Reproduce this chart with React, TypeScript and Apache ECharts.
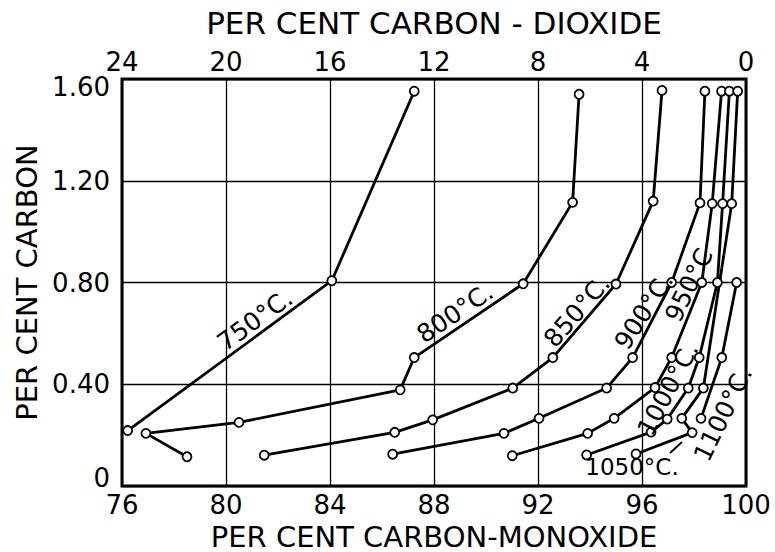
import React, { useEffect, useRef } from "react";
import * as echarts from "echarts";

// Per cent CO (x) vs per cent carbon (y) for each temperature
const t750: number[][] = [[76.22, 0.218], [84.07, 0.807], [87.24, 1.552]];
const t800: number[][] = [[78.5, 0.115], [76.92, 0.207], [80.5, 0.25], [86.7, 0.378], [87.24, 0.505], [91.43, 0.795], [93.33, 1.115], [93.58, 1.54]];
const t850: number[][] = [[81.47, 0.121], [86.49, 0.211], [87.95, 0.26], [91.03, 0.385], [92.57, 0.505], [95.0, 0.794], [96.43, 1.12], [96.77, 1.555]];
const t900: number[][] = [[86.41, 0.125], [90.69, 0.207], [92.04, 0.266], [94.64, 0.385], [95.64, 0.505], [97.14, 0.8], [98.23, 1.113], [98.42, 1.552]];
const t950: number[][] = [[91.01, 0.119], [93.91, 0.207], [94.93, 0.266], [96.5, 0.387], [97.14, 0.505], [98.3, 0.8], [98.7, 1.11], [99.06, 1.552]];
const t1000: number[][] = [[93.87, 0.122], [96.35, 0.212], [96.97, 0.263], [97.78, 0.385], [98.2, 0.505], [98.9, 0.8], [99.1, 1.11], [99.36, 1.552]];
const t1050: number[][] = [[95.77, 0.126], [97.93, 0.21], [97.53, 0.266], [98.36, 0.385], [99.45, 1.11], [99.68, 1.552]];
const t1100: number[][] = [[98.27, 0.266], [99.07, 0.505], [99.64, 0.8]];

const seriesNames = ["750°C.", "800°C.", "850°C.", "900°C.", "950°C", "1000°C.", "1050°C.", "1100°C."];
const seriesData = [t750, t800, t850, t900, t950, t1000, t1050, t1100];

const bottomTicks = [76, 80, 84, 88, 92, 96, 100];
const topTicks = [24, 20, 16, 12, 8, 4, 0];
const yTicks = [0, 0.4, 0.8, 1.2, 1.6];

const FONT = "DejaVu Sans";

export default function App() {
  const ref = useRef<HTMLDivElement>(null);
  useEffect(() => {
    if (!ref.current) return;
    const chart = echarts.init(ref.current, null, { renderer: "svg" });
    const label = (text: string, x: number, y: number, deg: number, size = 25) => ({
      type: "text",
      x,
      y,
      rotation: (deg * Math.PI) / 180,
      style: {
        text,
        fill: "#000",
        font: `${size}px "${FONT}"`,
        textAlign: "center",
        textVerticalAlign: "middle",
      },
      z: 10,
    });
    chart.setOption({
      animation: false,
      backgroundColor: "#fff",
      textStyle: { fontFamily: FONT, color: "#000" },
      grid: {
        left: 122,
        right: 29,
        top: 79,
        bottom: 66,
        show: true,
        borderColor: "#000",
        borderWidth: 3,
        backgroundColor: "transparent",
        containLabel: false,
        outerBoundsMode: "none",
      },
      xAxis: [
        {
          type: "value",
          position: "bottom",
          min: bottomTicks[0],
          max: bottomTicks[bottomTicks.length - 1],
          interval: 4,
          name: "PER CENT CARBON-MONOXIDE",
          nameLocation: "middle",
          nameGap: 27,
          nameTextStyle: { fontSize: 29, color: "#000", fontFamily: FONT, lineHeight: 29 },
          axisLine: { show: false },
          axisTick: { show: false },
          axisLabel: { fontSize: 26, color: "#000", margin: 6, fontFamily: FONT },
          splitLine: { show: true, lineStyle: { color: "#000", width: 1.3 } },
        },
        {
          type: "value",
          position: "top",
          min: 0,
          max: topTicks[0],
          interval: 4,
          inverse: true,
          name: "PER CENT CARBON - DIOXIDE",
          nameLocation: "middle",
          nameGap: 41,
          nameTextStyle: { fontSize: 31, color: "#000", fontFamily: FONT },
          axisLine: { show: false },
          axisTick: { show: false },
          axisLabel: { fontSize: 26, color: "#000", margin: 4, fontFamily: FONT },
          splitLine: { show: false },
        },
      ],
      yAxis: {
        type: "value",
        min: yTicks[0],
        max: yTicks[yTicks.length - 1],
        interval: 0.4,
        name: "PER CENT CARBON",
        nameLocation: "middle",
        nameGap: 80,
        nameTextStyle: { fontSize: 29, color: "#000", fontFamily: FONT },
        axisLine: { show: false },
        axisTick: { show: false },
        axisLabel: {
          fontSize: 26,
          color: "#000",
          margin: 12,
          fontFamily: FONT,
          formatter: (v: number) =>
            v === 0 ? "{lo|0}" : v >= 1.6 ? "{hi|" + v.toFixed(2) + "}" : v.toFixed(2),
          rich: {
            lo: { fontSize: 26, color: "#000", fontFamily: FONT, padding: [0, 0, 16, 0] },
            hi: { fontSize: 26, color: "#000", fontFamily: FONT, padding: [16, 0, 0, 0] },
          },
        },
        splitLine: { show: true, lineStyle: { color: "#000", width: 1.3 } },
      },
      series: seriesData.map((d, i) => ({
        name: seriesNames[i],
        type: "line",
        xAxisIndex: 0,
        data: d,
        symbol: "circle",
        symbolSize: 9,
        showSymbol: true,
        lineStyle: { color: "#000", width: 2.8 },
        itemStyle: { color: "#fff", borderColor: "#000", borderWidth: 1.8 },
        z: 5,
      })),
      graphic: [
        label("750°C.", 255, 320, 36),
        label("800°C.", 455, 313, 34),
        label("850°C.", 577, 311, 49),
        label("900°C.", 644, 311, 57),
        label("950°C", 689, 285, 64),
        label("1000°C.", 668, 389, 62),
        label("1050°C.", 632, 467, 0, 23),
        label("1100°C.", 723, 414, 64),
        {
          type: "line",
          shape: { x1: 670, y1: 453, x2: 682, y2: 442 },
          style: { stroke: "#000", lineWidth: 2 },
          z: 10,
        },
      ],
    });
    return () => chart.dispose();
  }, []);
  return (
    <div
      ref={ref}
      style={{ position: "absolute", left: 0, top: 0, width: 775, height: 552 }}
    />
  );
}
